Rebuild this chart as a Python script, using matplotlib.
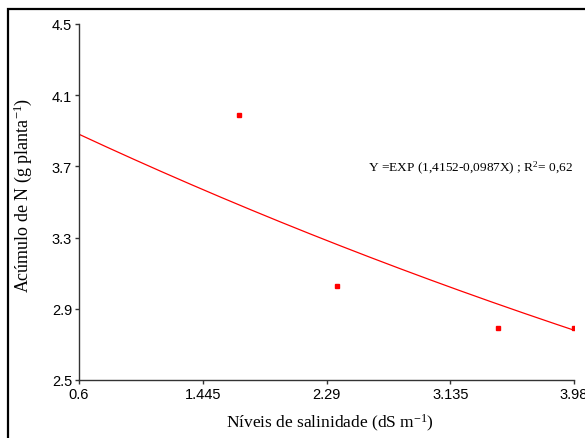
import numpy as np
import matplotlib
matplotlib.use("Agg")
import matplotlib.pyplot as plt
from matplotlib.patches import Rectangle

# Data
x_obs = [1.69, 2.36, 3.46, 3.98]
y_obs = [3.99, 3.03, 2.79, 2.79]
coef_a = 1.4152
coef_b = -0.0987
x_ticks = [0.6, 1.445, 2.29, 3.135, 3.98]
x_tick_labels = ["0.6", "1.445", "2.29", "3.135", "3.98"]
y_ticks = [2.5, 2.9, 3.3, 3.7, 4.1, 4.5]
y_tick_labels = ["2.5", "2.9", "3.3", "3.7", "4.1", "4.5"]

serif = "Liberation Serif"
plt.rcParams["mathtext.fontset"] = "custom"
plt.rcParams["mathtext.rm"] = serif
plt.rcParams["mathtext.it"] = serif
plt.rcParams["mathtext.default"] = "rm"

fig = plt.figure(figsize=(5.85, 4.39), dpi=100)
fig.patch.set_facecolor("white")
ax = fig.add_axes([79/585, 1-381/439, (574-79)/585, (381-25)/439])

xc = np.linspace(0.6, 3.98, 200)
ax.plot(xc, np.exp(coef_a + coef_b*xc), color="#ff0000", lw=0.9)
ax.plot(x_obs, y_obs, ls="none", marker="s", ms=3, color="#ff0000", mec="#ff0000")

ax.set_xlim(0.6, 3.98)
ax.set_ylim(2.5, 4.5)
ax.set_xticks(x_ticks)
ax.set_xticklabels(x_tick_labels)
ax.set_yticks(y_ticks)
ax.set_yticklabels(y_tick_labels)
for s in ["top", "right"]:
    ax.spines[s].set_visible(False)
for s in ["left", "bottom"]:
    ax.spines[s].set_color("#333333")
    ax.spines[s].set_linewidth(1.0)
ax.tick_params(direction="out", length=3, width=1, color="#333333", labelsize=10.5, pad=2)
for lab in ax.get_xticklabels() + ax.get_yticklabels():
    lab.set_fontfamily("Liberation Sans")

fig.text(330/585, 1-423/439, "Níveis de salinidade (dS m$^{\\mathregular{-1}}$)",
         fontfamily=serif, fontsize=12.5, ha="center", va="center")
fig.text(23/585, 1-195/439, "Acúmulo de N (g planta$^{\\mathregular{-1}}$)",
         fontfamily=serif, fontsize=13, ha="center", va="center", rotation=90)

fig.text(368/585, 1-168/439, "Y =EXP (1,4152-0,0987X) ; R$^{\\mathregular{2}}$= 0,62",
         fontfamily=serif, fontsize=9.6, va="center", ha="left")

fig.patches.append(Rectangle((8/585, -0.05), 1.2, 1-10/439+0.05, transform=fig.transFigure,
                             fill=False, ec="black", lw=1.6))

fig.savefig("out.png", dpi=100)
